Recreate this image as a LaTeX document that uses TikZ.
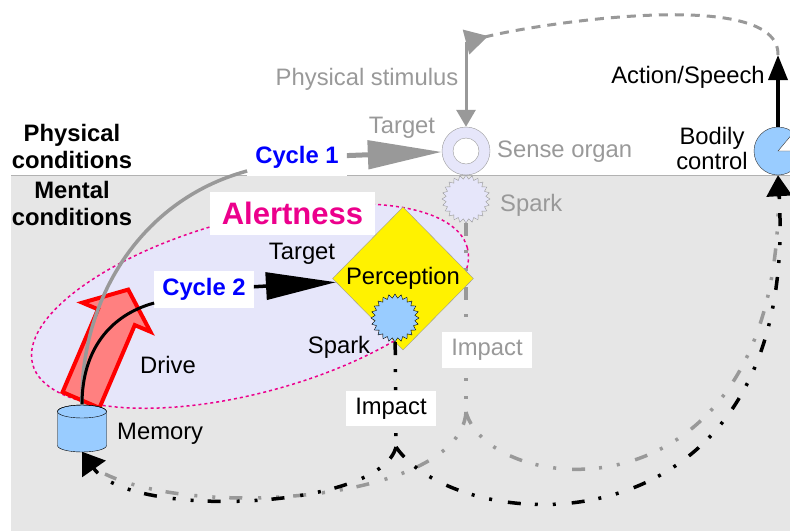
\documentclass[tikz,border=0pt]{standalone}
\usepackage{fontspec}
\setmainfont{Liberation Sans}
\usetikzlibrary{calc,positioning,shapes.geometric,arrows.meta}
\definecolor{lav}{RGB}{230,230,250}
\definecolor{skyb}{RGB}{153,204,255}
\definecolor{gr}{RGB}{153,153,153}
\definecolor{bggray}{RGB}{230,230,230}
\definecolor{drivered}{RGB}{255,128,128}
\tikzset{
  txt/.style={font=\fontsize{23.8}{27.5}\selectfont, inner sep=0pt},
  gtxt/.style={txt, text=gr},
  boxtxt/.style={font=\fontsize{23.8}{27.5}\selectfont, fill=white, inner xsep=8pt, inner ysep=7pt},
  cyclbl/.style={boxtxt, text=blue, font=\fontsize{23.8}{27.5}\selectfont\bfseries},
  spark/.style={star, star points=24, star point ratio=1.2, minimum size=48pt, inner sep=0pt},
  impline/.style={line width=3.5pt, dash pattern=on 13pt off 14pt on 3pt off 15pt on 3pt off 16pt},
}
\begin{document}
\begin{tikzpicture}[x=1pt,y=-1pt]
\useasboundingbox (0,0) rectangle (790,531);
\fill[bggray] (11,175) rectangle (800,531);
\draw[gray!60, line width=1pt] (11,175) -- (800,175);

\draw[magenta, fill=lav, line width=1.5pt, dash pattern=on 3pt off 3pt, rotate around={15:(250,306)}] (250,306) ellipse [x radius=225pt, y radius=87pt];

\node (sense) [circle, draw=gr, fill=lav, minimum size=48pt, inner sep=0pt] at (466,151) {};
\node (sensein) [circle, draw=gr, fill=white, minimum size=26pt, inner sep=0pt] at (sense) {};
\node (sspark) [spark, draw=gr, fill=lav] at (466,199) {};
\node (body) [circle, draw=black!80, fill=skyb, minimum size=48pt, inner sep=0pt] at (778,151) {};
\filldraw[fill=white, draw=black!80] (body.center) -- ++(24,0) arc[start angle=0, end angle=-50, radius=24] -- cycle;

\coordinate (gsplit) at (466,412);
\coordinate (gend) at (105,474);
\draw[impline, gr] (sspark) -- (gsplit);
\draw[impline, gr] (gsplit) .. controls (460,500) and (200,520) .. (gend);
\draw[impline, gr] (gsplit) .. controls (490,500) and (790,530) .. (body.south);

\draw[red, fill=drivered, line width=4pt, line join=miter] (62.6,392.1) -- (98,309.3) -- (82.4,302.7) -- (128.2,289.6) -- (150.4,331.7) -- (134.8,325.1) -- (99.4,407.9) -- cycle;

\node (mem) [minimum width=49pt, minimum height=47pt, inner sep=0pt] at (82,428) {};
\filldraw[fill=skyb] (57.5,411.5) -- (57.5,445.5) arc[start angle=180, end angle=0, x radius=24.5, y radius=6.5] -- (106.5,411.5) arc[start angle=0, end angle=-180, x radius=24.5, y radius=6.5] -- cycle;
\draw (82,411.5) ellipse [x radius=24.5pt, y radius=6.5pt];

\node (perc) [diamond, draw=gr, fill=yellow, minimum width=141pt, minimum height=143pt, txt] at (403,278.5) {Perception};
\node (pspark) [spark, draw, fill=skyb] at (395,318) {};

\node (cyc1) [cyclbl] at (297,157.5) {Cycle 1};
\node (cyc2) [cyclbl] at (204,289.5) {Cycle 2};
\draw[gr, line width=3.5pt] (mem.north) .. controls (80,300) and (140,200) .. (cyc1);
\draw[line width=3pt] (mem.north) .. controls (82,350) and (110,315) .. (cyc2);
\draw[gr, line width=5pt, -{Triangle[length=74pt,width=28pt]}] (cyc1) -- (sense);
\draw[line width=3.5pt, -{Triangle[length=70pt,width=27pt]}] (cyc2) -- (perc);

\coordinate (bsplit) at (396,447);
\draw[impline] (pspark) -- (bsplit);
\draw[impline, -{Triangle[length=21pt,width=28pt]}] (bsplit) .. controls (380,510) and (130,520) .. (mem.south);
\draw[impline, -{Triangle[length=21pt,width=25pt]}] (bsplit) .. controls (460,540) and (800,560) .. (body.south);

\coordinate (act) at (778,55);
\coordinate (stim) at (466,42);
\draw[line width=3.5pt, -{Triangle[length=25pt,width=19pt]}] (body) -- (act);
\draw[gr, line width=3pt, dash pattern=on 9pt off 7pt, -{Triangle[reversed,length=23pt,width=25pt]}] (act) .. controls (780,-15) and (530,25) .. (stim);
\draw[gr, line width=3pt, -{Triangle[length=17pt,width=19pt]}] (stim) -- (sense);

\node (stimtxt) [gtxt, anchor=base] at (367,85) {Physical stimulus};
\node (tgt1) [gtxt, anchor=base] at (402,133) {Target};
\node (sensetxt) [gtxt, anchor=base west] at (497,157) {Sense organ};
\node (spark1) [gtxt, anchor=base west] at (500,211) {Spark};
\node (acttxt) [txt, anchor=base] at (688,83) {Action/Speech};
\node (bodytxt) [txt, font=\fontsize{23.8}{25.5}\selectfont, align=center] at (712,148.5) {Bodily\\control};
\node (phys) [txt, font=\fontsize{23.8}{27.5}\selectfont\bfseries, align=center] at (72,146.5) {Physical\\conditions};
\node (ment) [txt, font=\fontsize{23.8}{27.5}\selectfont\bfseries, align=center] at (72,203.5) {Mental\\conditions};
\node (alert) [boxtxt, text=magenta, font=\fontsize{31}{34}\selectfont\bfseries, inner xsep=12pt, inner ysep=10pt] at (292.5,213.5) {Alertness};
\node (tgt2) [txt, anchor=base] at (302,259) {Target};
\node (spark2) [txt, anchor=base] at (339,353) {Spark};
\node (drive) [txt, anchor=base] at (168,373) {Drive};
\node (memtxt) [txt, anchor=base west] at (117,439) {Memory};
\node (imp1) [boxtxt, inner xsep=9.5pt] at (391,408.5) {Impact};
\node (imp2) [boxtxt, text=gr, inner xsep=9.5pt] at (487,350) {Impact};
\end{tikzpicture}
\end{document}
